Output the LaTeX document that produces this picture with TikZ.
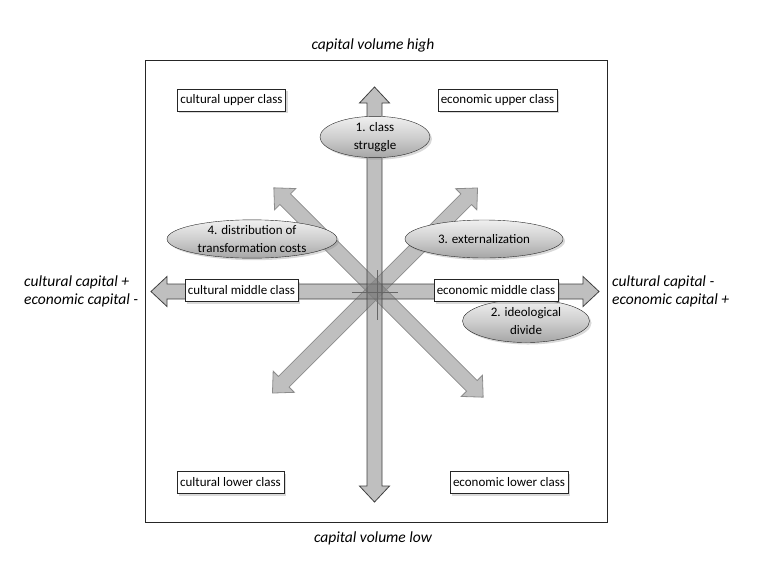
\documentclass[tikz,border=0pt]{standalone}
\usepackage{fontspec}
\setmainfont{Carlito}
\usetikzlibrary{shapes.geometric,shadows}

\tikzset{
  classbox/.style={draw=black!85, fill=white, inner sep=3pt, minimum height=22pt,
    font=\fontsize{13}{15}\selectfont,
    drop shadow={shadow xshift=2pt, shadow yshift=-2pt, opacity=.3}},
  dimension/.style={ellipse, draw=black!85, inner sep=0pt, align=center,
    top color=gray!12, bottom color=gray!70, middle color=gray!38,
    font=\fontsize{13}{18}\selectfont,
    drop shadow={shadow xshift=2pt, shadow yshift=-2pt, opacity=.3}},
  axislabel/.style={font=\fontsize{15.5}{18}\selectfont\itshape, inner sep=0pt},
  mainarrow/.style={draw=black!75, fill=gray!100, fill opacity=.5, line width=.8pt},
  diagarrow/.style={draw=gray!90, fill=gray!100, fill opacity=.5, line width=.8pt}
}

% fat double arrow: centre x, centre y, angle, half length, style
\newcommand{\fatarrow}[5]{%
  \begin{scope}[shift={(#1,#2)}, rotate=#3]
    \draw[#5] (-#4,0) -- (-#4+16,15) -- (-#4+16,7.5) -- (#4-16,7.5) -- (#4-16,15)
      -- (#4,0) -- (#4-16,-15) -- (#4-16,-7.5) -- (-#4+16,-7.5) -- (-#4+16,-15) -- cycle;
  \end{scope}}

\begin{document}
\begin{tikzpicture}[x=1pt, y=-1pt]
  \useasboundingbox (0,0) rectangle (762,563);
  \draw[black!85, line width=.9pt] (145,60) rectangle (607,522);

  % the four dimensions of conflict
  \fatarrow{378.5}{292.5}{-45}{148}{diagarrow}
  \fatarrow{375}{290.5}{45}{145}{diagarrow}
  \fatarrow{375}{291.5}{0}{224}{mainarrow}
  \fatarrow{374.5}{294.5}{90}{207.5}{mainarrow}
  \draw[black!60, very thin] (352,292) -- (398,292);
  \draw[black!60, very thin] (377,270) -- (377,320);

  \node[axislabel] (high) at (373,45) {capital volume high};
  \node[axislabel] (low) at (373,538) {capital volume low};
  \node[axislabel, anchor=west, align=left] (cultural) at (24,291) {cultural capital +\\economic capital -};
  \node[axislabel, anchor=west, align=left] (economic) at (612,291) {cultural capital -\\economic capital +};

  \node[dimension, minimum width=110pt, minimum height=40pt] (struggle) at (375,137) {1. class\\struggle};
  \node[dimension, minimum width=170pt, minimum height=37pt] (costs) at (252,239) {4. distribution of\\transformation costs};
  \node[dimension, minimum width=158pt, minimum height=38pt] (extern) at (484,239) {3. externalization};
  \node[dimension, minimum width=127pt, minimum height=43pt] (divide) at (526,321) {2. ideological\\divide};

  \node[classbox] (culup) at (231.5,100) {cultural upper class};
  \node[classbox] (ecoup) at (497.5,100) {economic upper class};
  \node[classbox] (culmid) at (241.5,290.5) {cultural middle class};
  \node[classbox] (ecomid) at (496,290.5) {economic middle class};
  \node[classbox] (cullow) at (230.5,482.5) {cultural lower class};
  \node[classbox] (ecolow) at (509,482.5) {economic lower class};
\end{tikzpicture}
\end{document}
